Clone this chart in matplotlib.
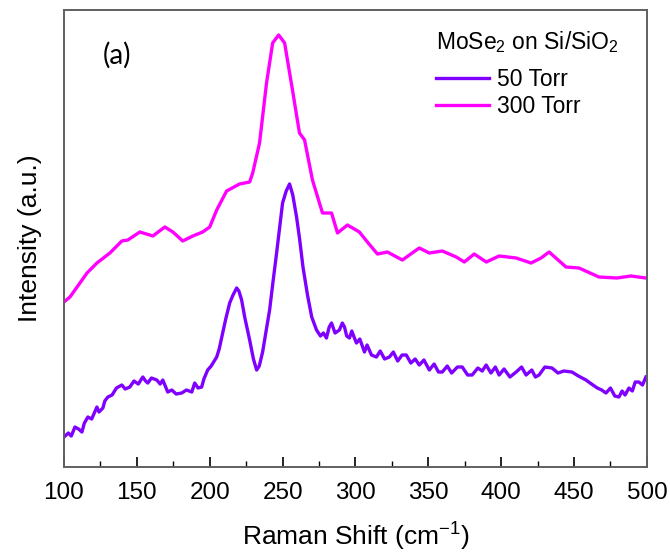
import matplotlib
matplotlib.use("Agg")
import matplotlib.pyplot as plt
from matplotlib.ticker import MultipleLocator

# Raman shift (cm^-1) and intensity (a.u.)
shift_300 = [100, 104.1, 115.8, 122.6, 131.5, 139.7, 143.8, 152.1, 161.0, 169.2,
             174.7, 181.5, 188.4, 195.2, 200.0, 204.8, 211.6, 220.5, 227.4, 229.5,
             234.2, 239.0, 243.2, 247.3, 251.4, 256.8, 261.6, 265.1, 270.5, 277.4,
             283.6, 287.7, 294.5, 302.7, 308.2, 315.1, 321.9, 332.2, 343.8, 350.7,
             359.6, 369.2, 374.7, 381.5, 389.8, 398.6, 410.3, 420.5, 427.4, 432.9,
             444.5, 453.4, 467.1, 479.5, 489.0, 499.3]
int_300 = [165, 170, 194, 204, 214, 226, 227, 235, 231, 240,
           235, 226, 231, 235, 240, 257, 276, 283, 285, 294,
           324, 384, 424, 432, 424, 377, 334, 327, 287, 254,
           254, 234, 242, 235, 225, 213, 215, 207, 219, 214,
           216, 210, 205, 213, 205, 211, 209, 204, 209, 215,
           200, 199, 190, 189, 191, 189]

shift_50 = [100, 103, 105, 107.5, 110, 112.3, 114, 116.4, 119, 122.6, 124, 126.7, 128,
            130.1, 133, 136, 139.7, 142, 145.2, 148, 151, 154.1, 156, 157.5, 160,
            163.7, 166, 167.8, 171.2, 174, 177, 180.8, 184, 187.7, 189.7, 192, 194.5,
            196, 198.6, 201, 204.8, 206.5, 208.9, 211, 213.7, 216, 218.5, 220, 221.9,
            224, 227.4, 230, 232.2, 234, 236.3, 238.5, 241.1, 243.5, 245.9, 248, 250.0,
            252.5, 254.8, 257, 259.6, 261.6, 264, 267.1, 270, 273.3, 276, 278, 280.1,
            282, 283.6, 286, 289.0, 291, 292.5, 294, 295.9, 297.5, 299.3, 300.7, 303,
            306.2, 308, 311, 314.4, 317, 320, 323.3, 326, 329, 332, 334.9, 338, 341,
            343.8, 347, 350.7, 354, 357, 359.6, 363, 366, 370, 373.3, 377, 380.1, 384,
            387, 389.7, 393, 396, 398.6, 402, 406, 410.3, 414, 417.1, 421, 423.5, 426.0,
            430, 434.9, 439, 443, 448.6, 453, 458.2, 462, 466, 469, 471.9, 475, 478,
            480.8, 483, 485, 487.7, 490, 492, 494.5, 497, 499.3]
int_50 = [30, 34, 31, 40, 38, 35, 44, 50, 48, 60, 55, 59, 66,
          70, 72, 79, 82, 78, 80, 86, 83, 90, 86, 84, 89,
          87, 83, 87, 75, 77, 73, 74, 77, 75, 84, 79, 80,
          88, 97, 101, 110, 118, 134, 148, 164, 172, 179, 176, 167,
          150, 127, 108, 97, 101, 115, 134, 157, 186, 214, 240, 264,
          276, 283, 272, 250, 229, 200, 172, 150, 137, 131, 134, 129,
          140, 144, 134, 137, 144, 140, 131, 129, 136, 129, 124, 128,
          115, 122, 112, 110, 116, 108, 110, 115, 106, 112, 112, 104, 108,
          102, 107, 97, 103, 95, 95, 101, 94, 100, 100, 92, 92, 99,
          96, 102, 94, 100, 92, 98, 90, 95, 100, 92, 97, 90, 92,
          100, 99, 94, 96, 95, 91, 87, 83, 79, 77, 74, 79, 71,
          70, 76, 72, 79, 76, 85, 85, 82, 90]

labels = ["50 Torr", "300 Torr"]
colors = ["#7F00FF", "#FF00FF"]

plt.rcParams['font.family'] = ['Liberation Sans', 'DejaVu Sans']
plt.rcParams['mathtext.fontset'] = 'custom'
plt.rcParams['mathtext.rm'] = 'Liberation Sans'
plt.rcParams['mathtext.it'] = 'Liberation Sans'
plt.rcParams['mathtext.default'] = 'rm'

fig = plt.figure(figsize=(6.7, 5.54), dpi=100)
ax = fig.add_axes([0.0955, 0.157, 0.870, 0.825])

ax.plot(shift_50, int_50, color=colors[0], lw=2.4, label=labels[0])
ax.plot(shift_300, int_300, color=colors[1], lw=2.4, label=labels[1])

ax.set_xlim(100, 500)
ax.set_ylim(0, 457)
ax.xaxis.set_major_locator(MultipleLocator(50))
ax.xaxis.set_minor_locator(MultipleLocator(25))
ax.tick_params(axis='x', which='major', direction='in', length=7, width=1.2,
               labelsize=17.5, pad=11, top=False)
ax.tick_params(axis='x', which='minor', direction='in', length=4, width=1.0, top=False)
ax.set_yticks([])
for sp in ax.spines.values():
    sp.set_color('#606060')
    sp.set_linewidth(1.4)

ax.set_xlabel("Raman Shift (cm$^{-1}$)", fontsize=19, labelpad=12)
ax.set_ylabel("Intensity (a.u.)", fontsize=19, labelpad=16)

ax.text(0.091, 0.900, "(a)", transform=ax.transAxes, fontsize=20,
        family=['Lato', 'DejaVu Sans'], ha='center', va='center')

leg = ax.legend(loc='upper left', frameon=False, fontsize=16.5,
                title="MoSe$_2$ on Si/SiO$_2$", title_fontsize=16.5,
                handlelength=2.3, handletextpad=0.35, labelspacing=0.2,
                borderpad=0, borderaxespad=0, bbox_to_anchor=(0.638, 0.958))
leg._legend_box.align = "left"
leg._legend_box.sep = 9

fig.savefig("out.png", dpi=100)
